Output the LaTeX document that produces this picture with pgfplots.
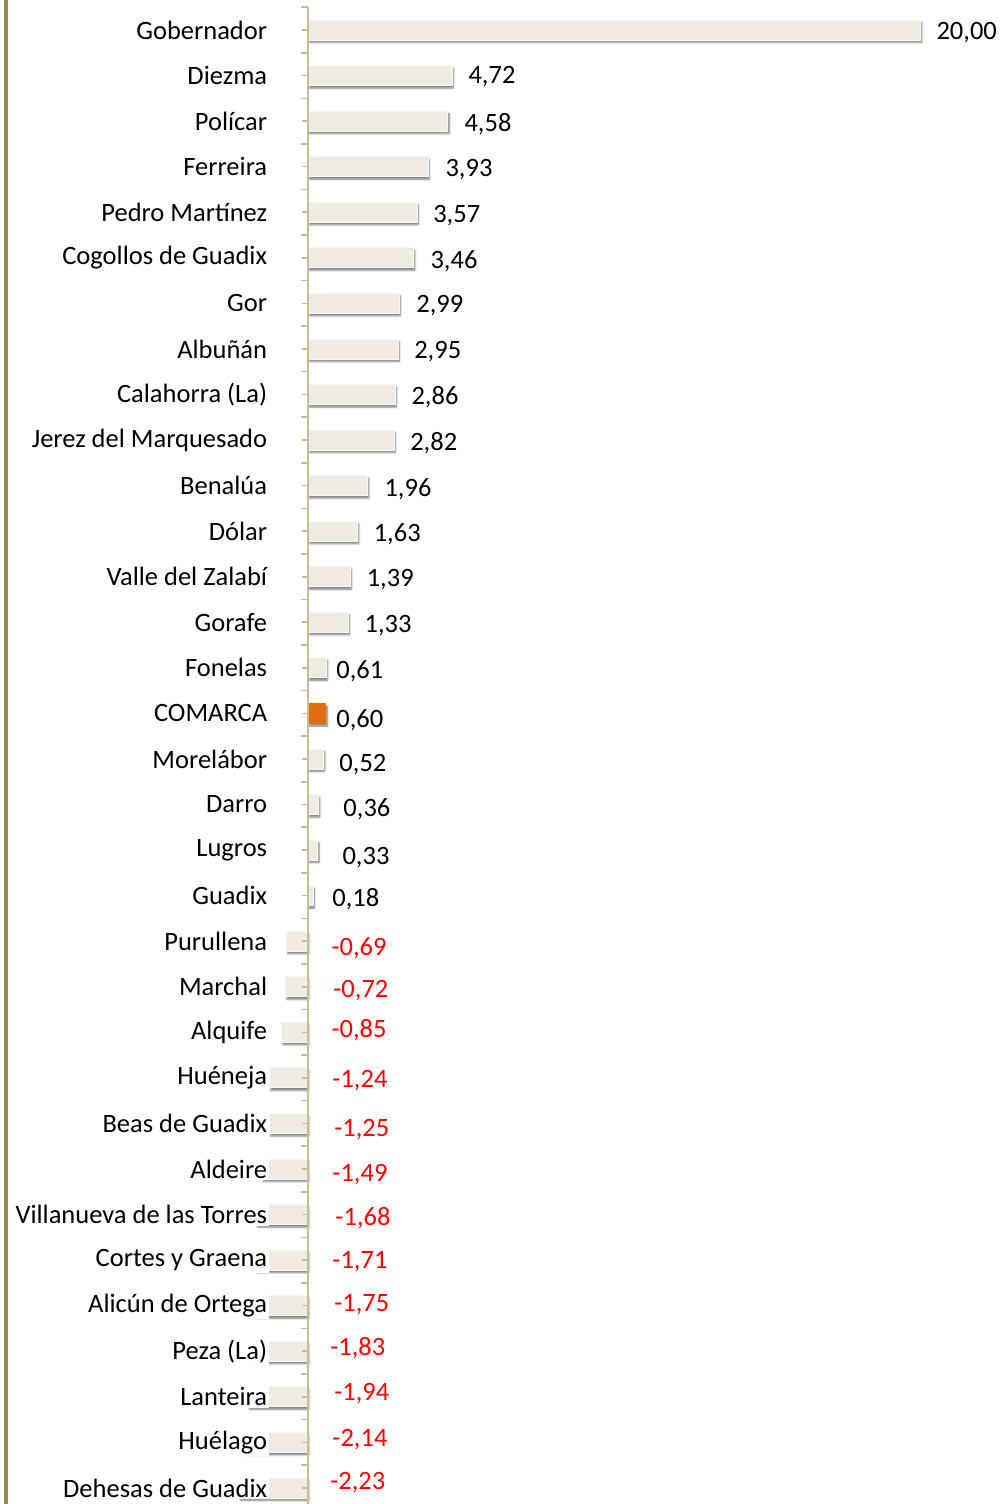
\documentclass[border=0pt]{standalone}
\usepackage{pgfplots}
\pgfplotsset{compat=1.18}
\usepackage{pgfplotstable}
\usepackage{fontspec}
\setmainfont{Carlito}
\usetikzlibrary{shadows.blur}
\definecolor{barfill}{HTML}{EEECE1}
\definecolor{orangebar}{HTML}{E46C0A}
\definecolor{axcol}{HTML}{C4BD97}
\definecolor{olivel}{HTML}{948A54}
\newcommand{\lblfont}{\fontsize{13.25}{15}\selectfont}

\pgfplotstableread{
idx val
0 20.00
1 4.72
2 4.58
3 3.93
4 3.57
5 3.46
6 2.99
7 2.95
8 2.86
9 2.82
10 1.96
11 1.63
12 1.39
13 1.33
14 0.61
16 0.52
17 0.36
18 0.33
19 0.18
20 -0.69
21 -0.72
22 -0.85
23 -1.24
24 -1.25
25 -1.49
26 -1.68
27 -1.71
28 -1.75
29 -1.83
30 -1.94
31 -2.14
32 -2.23
}\bars

\pgfplotstableread{
idx val
15 0.60
}\comarca

\pgfplotstableread{
lx ly lab
20.51 0.02 20,00
5.24 0.99 4,72
5.11 2.02 4,58
4.49 3.01 3,93
4.09 4.02 3,57
4.00 5.03 3,46
3.54 6.01 2,99
3.47 7.02 2,95
3.38 8.01 2,86
3.34 9.02 2,82
2.50 10.03 1,96
2.15 11.02 1,63
1.92 12.03 1,39
1.85 13.02 1,33
0.93 14.03 0,61
0.93 15.10 0,60
1.03 16.09 0,52
1.16 17.05 0,36
1.13 18.13 0,33
0.80 19.03 0,18
}\poslabels

\pgfplotstableread{
lx ly lab
0.77 20.11 -0,69
0.83 21.03 -0,72
0.77 21.90 -0,85
0.80 23.02 -1,24
0.86 24.10 -1,25
0.80 25.07 -1,49
0.90 26.03 -1,68
0.80 26.98 -1,71
0.86 27.94 -1,75
0.73 28.88 -1,83
0.86 29.89 -1,94
0.80 30.90 -2,14
0.73 31.83 -2,23
}\neglabels

\begin{document}
\begin{tikzpicture}
\useasboundingbox (0,0) rectangle (500pt,752pt);
\begin{axis}[
  at={(0,0)}, anchor=south west,
  scale only axis, width=500pt, height=748.4pt,
  xmin=-10.033, xmax=22.594,
  ymin=-0.5, ymax=32.353, y dir=reverse,
  axis x line=none, axis y line=center,
  y axis line style={-, draw=axcol, line width=1pt},
  axis on top, clip=false,
  tick align=outside,
  major tick length=3pt, minor tick length=3.5pt,
  ytick={0,...,32},
  minor ytick={-0.5,0.5,...,32.5},
  every tick/.style={draw=axcol, line width=0.8pt},
  yticklabels={Gobernador,Diezma,Polícar,Ferreira,Pedro Martínez,Cogollos de Guadix,Gor,Albuñán,Calahorra (La),Jerez del Marquesado,Benalúa,Dólar,Valle del Zalabí,Gorafe,Fonelas,COMARCA,Morelábor,Darro,Lugros,Guadix,Purullena,Marchal,Alquife,Huéneja,Beas de Guadix,Aldeire,Villanueva de las Torres,Cortes y Graena,Alicún de Ortega,Peza (La),Lanteira,Huélago,Dehesas de Guadix},
  yticklabel style={font=\lblfont, fill=white, inner sep=1pt, anchor=east, text=black, xshift=-16pt},
]
\addplot[xbar, bar shift=0pt, bar width=10pt, fill=barfill, draw=white!60!barfill, line width=0.4pt,
  blur shadow={shadow xshift=0.7pt, shadow yshift=-1.3pt, shadow blur radius=0.9pt, shadow blur steps=6, shadow opacity=50}]
  table[x=val, y=idx]{\bars};
\addplot[xbar, bar shift=0pt, bar width=10pt, fill=orangebar, draw=orangebar, line width=0.4pt,
  blur shadow={shadow xshift=0.7pt, shadow yshift=-1.3pt, shadow blur radius=0.9pt, shadow blur steps=6, shadow opacity=50}]
  table[x=val, y=idx]{\comarca};
\addplot[draw=none, mark=none, nodes near coords, point meta=explicit symbolic,
  nodes near coords style={anchor=west, inner sep=0pt, font=\lblfont, text=black, yshift=-1pt}]
  table[x=lx, y=ly, meta=lab]{\poslabels};
\addplot[draw=none, mark=none, nodes near coords, point meta=explicit symbolic,
  nodes near coords style={anchor=west, inner sep=0pt, font=\lblfont, text=red, yshift=-1pt}]
  table[x=lx, y=ly, meta=lab]{\neglabels};
\end{axis}
\draw[olivel, line width=2pt] (3pt,0) -- (3pt,752pt);
\end{tikzpicture}
\end{document}
